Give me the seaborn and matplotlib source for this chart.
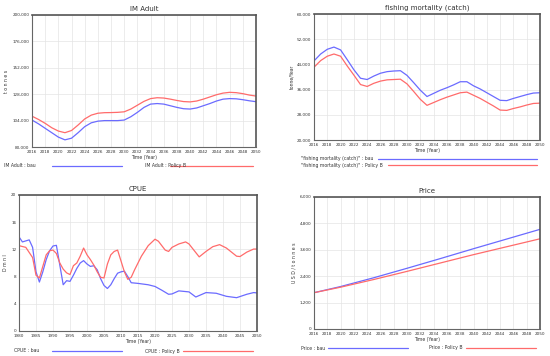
import matplotlib
matplotlib.use("Agg")
import matplotlib.pyplot as plt
import seaborn as sns
import pandas as pd
import numpy as np
from matplotlib.lines import Line2D
from matplotlib.ticker import FuncFormatter

# ---------------- data ----------------
years_im = list(range(2016, 2051))
im_bau = [104.5, 101, 97, 93, 89, 86.5, 88, 93, 98.5, 102, 103.5, 104, 104, 104, 104.5,
          107.5, 111.5, 116, 119, 119.5, 119, 117.5, 116, 114.8, 114.5, 115.5, 117.5,
          119.5, 121.8, 123.5, 124, 123.8, 123, 122, 121.2]
im_pol = [108, 105, 101.5, 97.5, 94.5, 93, 95, 100, 105.5, 109, 110.7, 111.2, 111.3,
          111.5, 112, 114.5, 118, 121.5, 124, 124.8, 124.5, 123.5, 122.3, 121.3, 121,
          121.8, 123.5, 125.5, 127.5, 129, 129.7, 129.4, 128.5, 127.2, 126.3]

years_fm = list(range(2016, 2051))
fm_bau = [45.1, 47.3, 48.8, 49.5, 48.6, 45.5, 42.3, 39.6, 39.2, 40.3, 41.2, 41.7, 41.9,
          42.0, 40.5, 38.2, 35.8, 33.8, 34.8, 35.8, 36.6, 37.5, 38.5, 38.5, 37.2, 36.2,
          35.0, 33.8, 32.6, 32.5, 33.2, 33.8, 34.4, 34.9, 35.0]
fm_pol = [43.1, 45.2, 46.6, 47.3, 46.6, 43.5, 40.6, 37.6, 37.0, 38.0, 38.7, 39.1, 39.2,
          39.3, 37.8, 35.4, 32.9, 31.0, 31.9, 32.8, 33.6, 34.3, 35.0, 35.2, 34.2, 33.2,
          32.0, 30.8, 29.5, 29.4, 30.0, 30.5, 31.1, 31.6, 31.7]

cpue_bau_years = [1980, 1981, 1983, 1984, 1985, 1986, 1987, 1988, 1989, 1990, 1991, 1992,
                  1993, 1994, 1995, 1996, 1997, 1998, 1999, 2000, 2001, 2002, 2003, 2004,
                  2005, 2006, 2007, 2008, 2009, 2010, 2011, 2012, 2013, 2015, 2018, 2020,
                  2022, 2024, 2025, 2027, 2030, 2032, 2035, 2038, 2041, 2044, 2047, 2049, 2050]
cpue_bau = [13.85, 13.1, 13.4, 12.3, 8.7, 7.2, 8.7, 10.5, 11.8, 12.5, 12.6, 9.7,
            6.8, 7.4, 7.3, 8.2, 9.2, 10.0, 10.35, 9.85, 9.5, 9.6, 9.0, 7.7,
            6.7, 6.25, 6.8, 7.7, 8.5, 8.7, 8.8, 8.0, 7.1, 7.0, 6.8, 6.55,
            6.0, 5.4, 5.45, 5.9, 5.75, 5.0, 5.65, 5.55, 5.1, 4.9, 5.4, 5.65, 5.6]
cpue_pol_years = [1980, 1982, 1984, 1985, 1986, 1987, 1988, 1989, 1990, 1991, 1992, 1993,
                  1994, 1995, 1996, 1997, 1998, 1999, 2000, 2001, 2002, 2003, 2004, 2005,
                  2006, 2007, 2008, 2009, 2010, 2011, 2012, 2013, 2014, 2016, 2018, 2020,
                  2021, 2023, 2024, 2025, 2027, 2029, 2030, 2033, 2035, 2037, 2039, 2041,
                  2044, 2045, 2047, 2049, 2050]
cpue_pol = [12.55, 12.3, 10.8, 8.2, 7.8, 9.5, 11.2, 11.8, 11.9, 11.4, 10.0, 9.1,
            8.55, 8.3, 9.6, 10.0, 11.0, 12.2, 11.2, 10.5, 9.7, 8.7, 7.9, 7.8,
            9.85, 11.2, 11.7, 11.9, 10.3, 8.7, 7.6, 7.9, 9.0, 11.0, 12.55, 13.5,
            13.2, 11.9, 11.7, 12.3, 12.8, 13.1, 12.8, 10.9, 11.7, 12.4, 12.7, 12.2,
            11.0, 10.95, 11.6, 12.05, 12.05]

years_price = [2016, 2020, 2025, 2030, 2035, 2040, 2045, 2050]
price_bau = [1650, 1930, 2330, 2760, 3200, 3650, 4090, 4530]
price_pol = [1650, 1900, 2250, 2620, 3000, 3380, 3740, 4100]

# ---------------- style ----------------
sns.set_style("white")
plt.rcParams['font.family'] = ['DejaVu Sans']
BLUE = "#6b6bff"
RED = "#ff6b6b"
TXT = "#333333"
FS = 3.0

fig = plt.figure(figsize=(5.5, 3.56), dpi=100)

def px(x0, y0, x1, y1):
    W, H = 550, 356
    return [x0 / W, 1 - y1 / H, (x1 - x0) / W, (y1 - y0) / H]

def style_ax(ax, title, ylabel, xlim, xticks, ylim, yticks, comma=True):
    ax.set_xlim(*xlim)
    ax.set_ylim(*ylim)
    ax.set_xticks(xticks)
    ax.set_yticks(yticks)
    if comma:
        ax.yaxis.set_major_formatter(FuncFormatter(lambda v, p: f"{int(round(v)):,}"))
    ax.grid(True, color="#e4e4e4", linewidth=0.5)
    for s in ["left", "bottom"]:
        ax.spines[s].set_color("#666666")
        ax.spines[s].set_linewidth(0.8)
    for s in ["top", "right"]:
        ax.spines[s].set_color("#555555")
        ax.spines[s].set_linewidth(1.2)
    ax.tick_params(axis="both", labelsize=FS, colors=TXT, length=0, pad=2)
    ax.set_title(title, fontsize=5.0, color=TXT, pad=3)
    ax.set_xlabel("Time (Year)", fontsize=FS + 0.3, color=TXT, labelpad=1)
    ax.set_ylabel(ylabel, fontsize=FS + 0.3, color=TXT, labelpad=2)
    if ax.get_legend() is not None:
        ax.get_legend().remove()

def legend_row(text, x_text, y, x_line0, x_line1, color):
    fig.text(x_text / 550, 1 - y / 356, text, fontsize=FS + 0.3, color=TXT, va="center", ha="left")
    fig.add_artist(Line2D([x_line0 / 550, x_line1 / 550], [1 - y / 356, 1 - y / 356],
                          color=color, linewidth=0.9, transform=fig.transFigure))

# Panel 1: IM Adult
ax1 = fig.add_axes(px(32, 15, 256, 147))
df1 = pd.DataFrame({"Year": years_im * 2,
                    "val": [v * 1000 for v in im_bau] + [v * 1000 for v in im_pol],
                    "run": ["bau"] * len(years_im) + ["Policy B"] * len(years_im)})
sns.lineplot(data=df1, x="Year", y="val", hue="run", palette=[BLUE, RED], ax=ax1, linewidth=0.9)
style_ax(ax1, "IM Adult", "t o n n e s", (2016, 2050), range(2016, 2051, 2),
         (80000, 200000), range(80000, 200001, 24000))
legend_row("IM Adult : bau", 4, 166, 52, 122, BLUE)
legend_row("IM Adult : Policy B", 145, 166, 170, 253, RED)

# Panel 2: fishing mortality
ax2 = fig.add_axes(px(314, 14, 540, 140))
df2 = pd.DataFrame({"Year": years_fm * 2,
                    "val": [v * 1000 for v in fm_bau] + [v * 1000 for v in fm_pol],
                    "run": ["bau"] * len(years_fm) + ["Policy B"] * len(years_fm)})
sns.lineplot(data=df2, x="Year", y="val", hue="run", palette=[BLUE, RED], ax=ax2, linewidth=0.9)
style_ax(ax2, "fishing mortality (catch)", "tonne/Year", (2016, 2050), range(2016, 2051, 2),
         (20000, 60000), range(20000, 60001, 8000))
legend_row("\"fishing mortality (catch)\" : bau", 301, 159, 378, 537, BLUE)
legend_row("\"fishing mortality (catch)\" : Policy B", 301, 165, 388, 537, RED)

# Panel 3: CPUE
ax3 = fig.add_axes(px(19, 195, 257, 331))
df3 = pd.DataFrame({"Year": cpue_bau_years + cpue_pol_years,
                    "val": cpue_bau + cpue_pol,
                    "run": ["bau"] * len(cpue_bau_years) + ["Policy B"] * len(cpue_pol_years)})
sns.lineplot(data=df3, x="Year", y="val", hue="run", palette=[BLUE, RED], ax=ax3, linewidth=0.9)
style_ax(ax3, "CPUE", "D m n l", (1980, 2050), range(1980, 2051, 5),
         (0, 20), range(0, 21, 4), comma=False)
legend_row("CPUE : bau", 14, 351, 52, 122, BLUE)
legend_row("CPUE : Policy B", 145, 351, 183, 253, RED)

# Panel 4: Price
ax4 = fig.add_axes(px(314, 197, 540, 329))
df4 = pd.DataFrame({"Year": years_price * 2,
                    "val": price_bau + price_pol,
                    "run": ["bau"] * len(years_price) + ["Policy B"] * len(years_price)})
sns.lineplot(data=df4, x="Year", y="val", hue="run", palette=[BLUE, RED], ax=ax4, linewidth=0.9)
style_ax(ax4, "Price", "U S D / t o n n e s", (2016, 2050), range(2016, 2051, 2),
         (0, 6000), range(0, 6001, 1200))
legend_row("Price : bau", 301, 348, 328, 408, BLUE)
legend_row("Price : Policy B", 429, 348, 466, 536, RED)

fig.savefig("out.png", dpi=100)
